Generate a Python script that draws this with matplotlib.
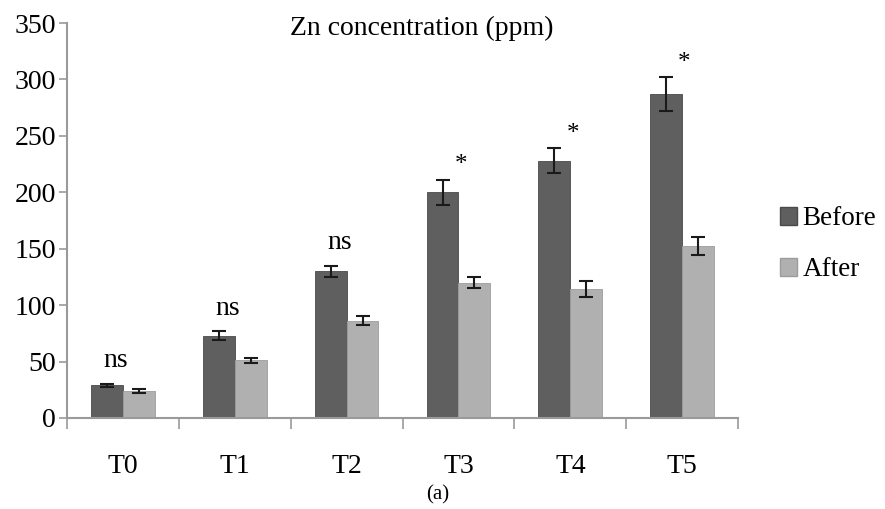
import numpy as np
import matplotlib
matplotlib.use("Agg")
import matplotlib.pyplot as plt
from matplotlib.patches import Patch

plt.rcParams['font.family'] = ['Liberation Serif', 'DejaVu Serif']

# data
groups = ['T0', 'T1', 'T2', 'T3', 'T4', 'T5']
before = [29, 73, 130, 200, 228, 287]
before_err = [1.5, 4, 5, 11, 11, 15]
after = [24, 51, 86, 120, 114, 152]
after_err = [1.5, 2, 4, 5, 7, 8]
signif = ['ns', 'ns', 'ns', '*', '*', '*']
yticks = [0, 50, 100, 150, 200, 250, 300, 350]

c_before = '#5f5f5f'
c_after = '#b0b0b0'
axis_col = '#9a9a9a'

fig = plt.figure(figsize=(8.85, 5.09), dpi=100)
ax = fig.add_axes([0.0757, 0.1788, 0.7583, 0.776])

x = np.arange(len(groups))
w = 0.285
ax.bar(x - w/2, before, w, color=c_before, edgecolor='#4a4a4a', linewidth=0.6,
       yerr=before_err, error_kw=dict(ecolor='#1a1a1a', elinewidth=1.5, capsize=5, capthick=1.5))
ax.bar(x + w/2, after, w, color=c_after, edgecolor='#9c9c9c', linewidth=0.6,
       yerr=after_err, error_kw=dict(ecolor='#1a1a1a', elinewidth=1.5, capsize=5, capthick=1.5))

# significance marks above each group
for i, s in enumerate(signif):
    top = before[i] + before_err[i]
    if s == 'ns':
        ax.text(i - 0.06, top + 9, s, ha='center', va='bottom', fontsize=20)
    else:
        ax.text(i + 0.02, top + 3, s, ha='center', va='bottom', fontsize=18)

ax.set_xlim(-0.5, len(groups) - 0.5)
ax.set_ylim(0, 350)
ax.set_yticks(yticks)
ax.tick_params(axis='y', direction='out', length=6, width=1.2, color=axis_col,
               labelsize=20, pad=2)

# group boundaries as major ticks, labels on minor ticks at centres
ax.set_xticks(np.arange(-0.5, len(groups), 1.0))
ax.set_xticklabels([])
ax.set_xticks(x, minor=True)
ax.set_xticklabels(groups, minor=True)
ax.tick_params(axis='x', which='major', direction='out', length=8, width=1.2, color=axis_col)
ax.tick_params(axis='x', which='minor', length=0, labelsize=20, pad=26)

for side in ['top', 'right']:
    ax.spines[side].set_visible(False)
for side in ['left', 'bottom']:
    ax.spines[side].set_color(axis_col)
    ax.spines[side].set_linewidth(1.5)

fig.text(0.476, 0.945, 'Zn concentration (ppm)', ha='center', va='center', fontsize=20)

handles = [Patch(facecolor=c_before, edgecolor='#4a4a4a', label='Before'),
           Patch(facecolor=c_after, edgecolor='#9c9c9c', label='After')]
fig.legend(handles=handles, loc='center left', bbox_to_anchor=(0.878, 0.52), frameon=False,
           fontsize=19.5, labelspacing=0.95, handlelength=0.65, handleheight=0.65,
           handletextpad=0.2, borderpad=0.1, borderaxespad=0)

fig.text(0.494, 0.027, '(a)', ha='center', va='center', fontsize=15)

fig.savefig('out.png', dpi=100)
